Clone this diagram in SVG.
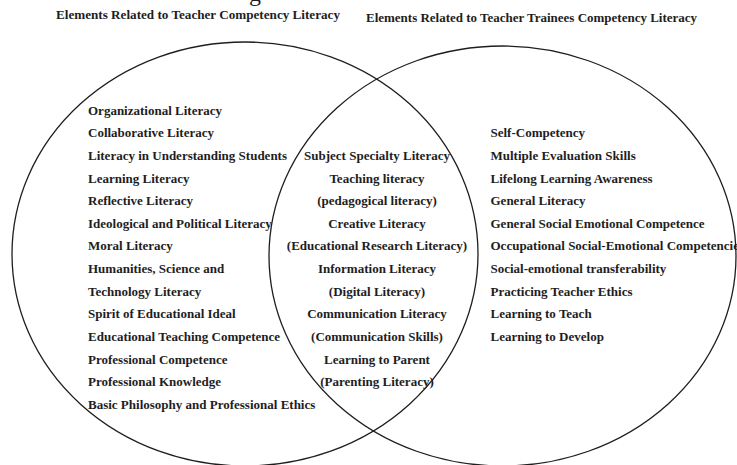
<svg xmlns="http://www.w3.org/2000/svg" width="737" height="465" viewBox="0 0 737 465">
  <style>
    .set { fill: none; stroke: #1e1e1e; stroke-width: 1.3; }
    .head { font-family: "Liberation Serif", "Times New Roman", serif; font-weight: bold; font-size: 12.4px; fill: #1e1e1e; }
    .item { font-family: "Liberation Serif", "Times New Roman", serif; font-weight: bold; font-size: 13px; fill: #1e1e1e; }
    .mid { text-anchor: middle; }
    .cap { font-family: "Liberation Serif", "Times New Roman", serif; font-size: 24px; fill: #1e1e1e; }
  </style>

  <rect width="737" height="465" fill="#ffffff"/>

  <!-- tail of the caption line above, cut by the top edge -->
  <text class="cap" x="249" y="1">g</text>

  <!-- set titles -->
  <text class="head" x="56" y="19" textLength="284" lengthAdjust="spacingAndGlyphs">Elements Related to Teacher Competency Literacy</text>
  <text class="head" x="366" y="22" textLength="331" lengthAdjust="spacingAndGlyphs">Elements Related to Teacher Trainees Competency Literacy</text>

  <!-- the two overlapping sets -->
  <g id="set-teacher">
    <ellipse class="set" cx="245" cy="254" rx="233" ry="212"/>
  </g>
  <g id="set-trainee">
    <ellipse class="set" cx="502.5" cy="256" rx="233.5" ry="210"/>
  </g>

  <!-- teacher-only elements -->
  <g id="teacher-items" class="item">
    <text x="88" y="114.5">Organizational Literacy</text>
    <text x="88" y="137.2">Collaborative Literacy</text>
    <text x="88" y="159.8">Literacy in Understanding Students</text>
    <text x="88" y="182.5">Learning Literacy</text>
    <text x="88" y="205.1">Reflective Literacy</text>
    <text x="88" y="227.8">Ideological and Political Literacy</text>
    <text x="88" y="250.4">Moral Literacy</text>
    <text x="88" y="273.1">Humanities, Science and</text>
    <text x="88" y="295.7">Technology Literacy</text>
    <text x="88" y="318.4">Spirit of Educational Ideal</text>
    <text x="88" y="341">Educational Teaching Competence</text>
    <text x="88" y="363.7">Professional Competence</text>
    <text x="88" y="386.3">Professional Knowledge</text>
    <text x="88" y="409">Basic Philosophy and Professional Ethics</text>
  </g>

  <!-- shared elements -->
  <g id="shared-items" class="item mid">
    <text x="377" y="159.8">Subject Specialty Literacy</text>
    <text x="377" y="182.5">Teaching literacy</text>
    <text x="377" y="205.1">(pedagogical literacy)</text>
    <text x="377" y="227.8">Creative Literacy</text>
    <text x="377" y="250.4">(Educational Research Literacy)</text>
    <text x="377" y="273.1">Information Literacy</text>
    <text x="377" y="295.7">(Digital Literacy)</text>
    <text x="377" y="318.4">Communication Literacy</text>
    <text x="377" y="341">(Communication Skills)</text>
    <text x="377" y="363.7">Learning to Parent</text>
    <text x="377" y="386.3">(Parenting Literacy)</text>
  </g>

  <!-- trainee-only elements -->
  <g id="trainee-items" class="item">
    <text x="490.5" y="137.2">Self-Competency</text>
    <text x="490.5" y="159.8">Multiple Evaluation Skills</text>
    <text x="490.5" y="182.5">Lifelong Learning Awareness</text>
    <text x="490.5" y="205.1">General Literacy</text>
    <text x="490.5" y="227.8">General Social Emotional Competence</text>
    <text x="490.5" y="250.4">Occupational Social-Emotional Competencies</text>
    <text x="490.5" y="273.1">Social-emotional transferability</text>
    <text x="490.5" y="295.7">Practicing Teacher Ethics</text>
    <text x="490.5" y="318.4">Learning to Teach</text>
    <text x="490.5" y="341">Learning to Develop</text>
  </g>
</svg>
